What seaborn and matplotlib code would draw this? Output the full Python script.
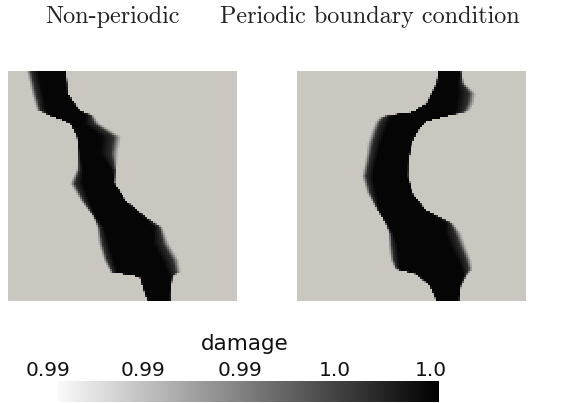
import numpy as np
import pandas as pd
import matplotlib
matplotlib.use("Agg")
import matplotlib.pyplot as plt
from matplotlib.colors import LinearSegmentedColormap
import seaborn as sns

# Crack outline per panel, in percent of panel size.
# rows: distance from the top edge; left/right: crack edges;
# *_blur: width of the soft transition on each side.
np_rows = [0, 9.7, 17.0, 19.2, 22.8, 28.6, 35.8, 43.1, 48.9, 56.2, 63.4, 67.8, 75.0, 82.3, 87.4, 89.5, 96.8, 100]
np_left = [8.0, 10.2, 12.4, 17.5, 26.9, 29.8, 30.6, 29.8, 26.9, 31.3, 37.1, 38.6, 39.3, 41.5, 44.4, 57.5, 59.7, 61.1]
np_right = [25.5, 26.2, 31.3, 37.1, 40.0, 49.5, 48.0, 47.3, 46.6, 51.7, 60.4, 67.7, 70.6, 75.0, 75.7, 72.1, 71.3, 71.3]
np_lblur = [5.0, 5.0, 4.0, 0.6, 0.6, 0.6, 0.6, 3.0, 5.5, 4.0, 1.0, 3.0, 4.5, 4.5, 3.0, 0.6, 0.6, 0.6]
np_rblur = [0.6, 0.6, 0.6, 3.0, 7.0, 9.0, 8.0, 2.0, 0.6, 0.6, 0.6, 4.0, 7.0, 7.5, 6.0, 0.6, 0.6, 0.6]

pb_rows = [0, 5.3, 9.7, 14.0, 17.6, 18.8, 19.8, 22.0, 25.6, 31.4, 38.6, 45.8, 53.0, 60.3, 66.0, 70.4, 76.2, 81.9, 86.3, 88.4, 93.5, 100]
pb_left = [61.7, 60.9, 58.7, 56.6, 50.7, 42.0, 36.2, 34.0, 32.5, 30.6, 29.6, 28.1, 30.3, 34.7, 38.3, 39.8, 39.8, 40.5, 42.7, 52.2, 58.0, 60.9]
pb_right = [71.9, 73.3, 78.4, 77.7, 75.5, 70.0, 65.3, 56.6, 53.6, 50.4, 48.8, 48.5, 50.7, 56.6, 68.2, 71.9, 74.1, 76.2, 77.0, 74.8, 71.9, 71.1]
pb_lblur = [0.6, 0.6, 0.6, 0.6, 0.6, 2.0, 5.0, 6.0, 6.0, 6.0, 5.0, 5.0, 4.0, 1.0, 0.6, 2.0, 4.0, 4.0, 2.0, 0.6, 0.6, 0.6]
pb_rblur = [0.6, 3.0, 8.0, 8.0, 6.0, 2.0, 0.6, 0.6, 0.6, 0.6, 0.6, 0.6, 0.6, 0.6, 3.0, 7.0, 7.0, 6.0, 5.0, 2.0, 0.6, 0.6]

panel_titles = ["Non-periodic", "Periodic boundary condition"]
cbar_title = "damage"
cbar_ticks = ["0.99", "0.99", "0.99", "1.0", "1.0"]

N = 115  # cells per side


def damage_field(rows, left, right, lblur, rblur, n=N):
    c = (np.arange(n) + 0.5) / n * 100
    L = np.interp(c, rows, left)[:, None]
    R = np.interp(c, rows, right)[:, None]
    lb = np.interp(c, rows, lblur)[:, None]
    rb = np.interp(c, rows, rblur)[:, None]
    X = c[None, :]
    a = np.clip((X - L) / lb, 0, 1)
    b = np.clip((R - X) / rb, 0, 1)
    return pd.DataFrame(np.minimum(a, b))


bg = "#c9c7c0"
field_cmap = LinearSegmentedColormap.from_list(
    "dmg", [(0, bg), (0.12, "#a3a29d"), (0.4, "#2e2e2e"), (1, "#050505")])
bar_cmap = LinearSegmentedColormap.from_list("bar", ["#f9f9f9", "#000000"])

W, H = 581, 403
fig = plt.figure(figsize=(W / 100, H / 100), dpi=100)

panels = [
    (damage_field(np_rows, np_left, np_right, np_lblur, np_rblur), 8),
    (damage_field(pb_rows, pb_left, pb_right, pb_lblur, pb_rblur), 297),
]
for df, x0 in panels:
    ax = fig.add_axes([x0 / W, 1 - 301 / H, 229 / W, 230 / H])
    sns.heatmap(df, ax=ax, cmap=field_cmap, vmin=0, vmax=1, cbar=False,
                xticklabels=False, yticklabels=False, rasterized=True)
    ax.set_xlabel("")
    ax.set_ylabel("")

title_x = [112, 370]
for t, x in zip(panel_titles, title_x):
    fig.text(x / W, 1 - 17 / H, t, family="cmr10", fontsize=17.4,
             ha="center", va="center", color="#222222")

# colour bar strip
cax = fig.add_axes([58 / W, 1 - 402 / H, 381 / W, 21 / H])
ramp = pd.DataFrame(np.linspace(0, 1, 256)[None, :])
sns.heatmap(ramp, ax=cax, cmap=bar_cmap, vmin=0, vmax=1, cbar=False,
            xticklabels=False, yticklabels=False)
cax.set_xlabel("")
cax.set_ylabel("")

fig.text(245 / W, 1 - 344 / H, cbar_title, fontsize=15.5, ha="center",
         va="center", color="#111111", family="DejaVu Sans")
tick_x = [48, 143, 240, 335, 431]
for lab, x in zip(cbar_ticks, tick_x):
    fig.text(x / W, 1 - 371 / H, lab, fontsize=14.5, ha="center",
             va="center", color="#111111", family="DejaVu Sans")

fig.savefig("out.png", dpi=100)
